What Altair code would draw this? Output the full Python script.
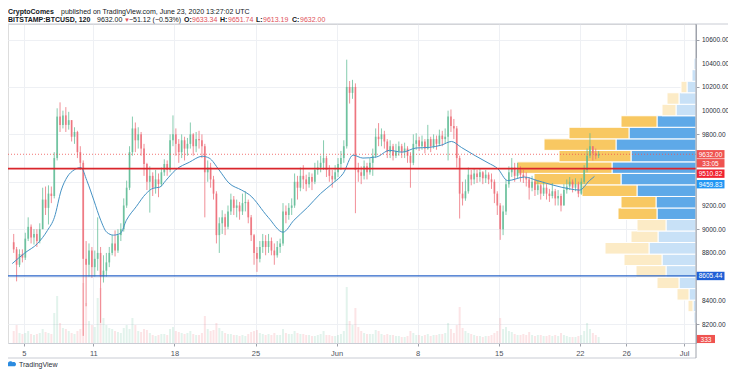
import altair as alt
import pandas as pd

# ---------------- data ----------------
# 6-hour candles starting 2020-05-04 00:00 UTC
FIRST_OPEN = 8890
closes = [
    8830, 8700, 8790, 8760, 8920, 9020, 8930, 8960, 8900, 9000, 9250, 9180,
    9300, 9280, 9600, 9950, 9880, 9960, 9880, 9920, 9780, 9820, 9650, 9560,
    8750, 8700, 8820, 8680, 8750, 8800, 8600, 8650, 8720, 8800, 8880, 8820,
    8950, 9000, 9200, 9350, 9650, 9850, 9750, 9800, 9680, 9550, 9400, 9450,
    9350, 9420, 9380, 9480, 9550, 9500, 9750, 9800, 9720, 9650, 9750, 9680,
    9720, 9800, 9700, 9760, 9750, 9700, 9480, 9520, 9420, 9300, 8950, 9050,
    9100, 9020, 9150, 9250, 9180, 9200, 9150, 9220, 9230, 9100, 8950, 8800,
    8750, 8850, 8900, 8850, 8900, 8820, 8780, 8850, 8880, 9150, 9120, 9180,
    9200, 9400, 9350, 9450, 9420, 9380, 9440, 9400, 9500, 9520, 9560, 9600,
    9500, 9450, 9420, 9480, 9550, 9600, 9700, 10200, 10150, 10200, 9500, 9480,
    9450, 9530, 9480, 9560, 9620, 9780, 9760, 9800, 9740, 9650, 9700, 9620,
    9660, 9700, 9650, 9680, 9620, 9560, 9720, 9750, 9700, 9740, 9680, 9760,
    9700, 9760, 9720, 9790, 9760, 9780, 9950, 9870, 9850, 9600, 9300, 9260,
    9320, 9460, 9420, 9470, 9440, 9480, 9430, 9460, 9420, 9400, 9300, 9200,
    9000, 9150, 9380, 9480, 9520, 9450, 9500, 9460, 9440, 9420, 9350, 9400,
    9330, 9370, 9300, 9350, 9300, 9280, 9320, 9260, 9280, 9200, 9330, 9360,
    9400, 9350, 9380, 9300, 9400, 9500, 9620, 9700, 9640, 9620, 9632,
]
highs = [
    8960, 8850, 8830, 8830, 8970, 9100, 9040, 9000, 9000, 9050, 9350, 9360,
    9370, 9360, 9650, 10020, 10070, 10000, 10030, 9990, 9920, 9860, 9830, 9700,
    9580, 8900, 8880, 8850, 8820, 9100, 8850, 8780, 8800, 8850, 8950, 8990,
    9000, 9050, 9260, 9410, 9700, 9950, 9900, 9860, 9820, 9720, 9560, 9530,
    9480, 9500, 9470, 9520, 9590, 9580, 9800, 9960, 9850, 9760, 9800, 9780,
    9770, 9900, 9810, 9820, 9830, 9800, 9720, 9580, 9560, 9450, 9320, 9100,
    9160, 9130, 9200, 9300, 9280, 9250, 9230, 9300, 9320, 9250, 9120, 8960,
    8850, 8900, 8960, 8950, 8960, 8930, 8880, 8900, 8920, 9220, 9200, 9220,
    9260, 9470, 9450, 9520, 9540, 9460, 9480, 9470, 9560, 9580, 9620, 9750,
    9620, 9540, 9500, 9540, 9600, 9660, 9750, 10430, 10250, 10260, 10230, 9560,
    9530, 9580, 9560, 9600, 9680, 9850, 9895, 9850, 9830, 9760, 9750, 9720,
    9720, 9740, 9720, 9730, 9700, 9650, 9800, 9810, 9780, 9790, 9760, 9880,
    9780, 9800, 9790, 9840, 9830, 9850, 10000, 10010, 9930, 9870, 9620, 9400,
    9420, 9520, 9500, 9510, 9500, 9510, 9490, 9500, 9480, 9470, 9420, 9320,
    9220, 9200, 9420, 9530, 9600, 9560, 9560, 9530, 9500, 9480, 9440, 9450,
    9420, 9410, 9380, 9400, 9380, 9340, 9390, 9340, 9330, 9300, 9380, 9420,
    9440, 9420, 9430, 9400, 9430, 9540, 9680, 9810, 9700, 9680, 9660,
]
lows = [
    8800, 8560, 8680, 8720, 8740, 8900, 8880, 8870, 8850, 8880, 9000, 9120,
    9040, 9220, 9260, 9580, 9820, 9850, 9820, 9840, 9740, 9720, 9600, 9500,
    8100, 8350, 8600, 8590, 8600, 8650, 8210, 8550, 8600, 8680, 8780, 8770,
    8800, 8900, 8980, 9180, 9330, 9620, 9650, 9680, 9620, 9450, 9330, 9140,
    9280, 9300, 9270, 9360, 9450, 9450, 9480, 9700, 9620, 9560, 9600, 9580,
    9620, 9680, 9620, 9650, 9680, 9600, 9100, 9400, 9350, 9250, 8880, 8800,
    8960, 8950, 9000, 9120, 9120, 9100, 9080, 9120, 9150, 9050, 8900, 8700,
    8640, 8720, 8800, 8780, 8800, 8780, 8700, 8760, 8800, 8860, 9050, 9080,
    9120, 9180, 9250, 9320, 9340, 9320, 9350, 9330, 9380, 9460, 9480, 9500,
    9440, 9400, 9350, 9400, 9440, 9500, 9560, 9680, 10060, 10100, 9135, 9400,
    9380, 9420, 9420, 9460, 9450, 9600, 9700, 9700, 9680, 9600, 9600, 9580,
    9600, 9620, 9600, 9600, 9560, 9350, 9540, 9670, 9660, 9670, 9640, 9670,
    9650, 9680, 9670, 9700, 9700, 9720, 9580, 9820, 9760, 9520, 9090, 9200,
    9240, 9300, 9370, 9380, 9390, 9400, 9380, 9390, 9380, 9340, 9220, 9120,
    8910, 8950, 9120, 9350, 9440, 9400, 9430, 9400, 9390, 9360, 9250, 9320,
    9280, 9290, 9250, 9280, 9250, 9230, 9260, 9200, 9200, 9150, 9200, 9300,
    9330, 9310, 9320, 9270, 9290, 9380, 9480, 9600, 9580, 9590, 9600,
]
volumes = [
    12, 18, 10, 9, 10, 12, 9, 8, 9, 10, 14, 11,
    10, 9, 30, 47, 20, 15, 14, 12, 10, 9, 12, 14,
    60, 40, 22, 18, 16, 45, 55, 25, 18, 15, 14, 12,
    11, 10, 15, 18, 14, 25, 18, 12, 11, 14, 13, 10,
    8, 7, 8, 9, 9, 8, 14, 16, 12, 11, 10, 9,
    10, 12, 9, 8, 8, 10, 27, 14, 12, 13, 20, 15,
    12, 10, 9, 9, 8, 8, 7, 8, 7, 9, 11, 12,
    13, 10, 9, 8, 9, 8, 10, 8, 8, 14, 10, 9,
    9, 12, 10, 9, 9, 8, 8, 7, 7, 8, 9, 12,
    8, 8, 7, 7, 8, 9, 12, 56, 22, 18, 35, 16,
    12, 10, 9, 9, 9, 13, 12, 9, 8, 9, 8, 8,
    7, 7, 6, 6, 7, 12, 10, 8, 8, 7, 8, 9,
    7, 8, 8, 9, 9, 10, 20, 14, 10, 18, 36, 15,
    12, 10, 9, 8, 7, 7, 6, 7, 7, 8, 10, 12,
    25, 14, 16, 12, 11, 9, 8, 8, 9, 8, 11, 8,
    7, 8, 8, 7, 7, 8, 7, 8, 7, 10, 8, 7,
    6, 6, 6, 7, 8, 12, 20, 14, 10, 8, 6,
]

# moving average line: (days after 2020-05-04 00:00 UTC, price)
ma_days = [0.0, 1.09, 2.19, 3.04, 3.64, 4.23, 4.74, 5.34, 5.93, 6.44, 7.04, 7.64,
           8.15, 8.74, 9.34, 9.85, 10.7, 11.55, 12.15, 12.74, 13.25, 14.1, 15.29,
           16.4, 17.0, 17.85, 18.7, 19.8, 20.48, 22.1, 23.38, 24.31, 25.5, 26.61,
           27.71, 28.57, 29.42, 30.27, 31.46, 32.56, 33.67, 34.86, 35.97, 37.07,
           37.92, 38.77, 39.97, 41.07, 41.92, 42.77, 44.22, 45.33, 46.77, 48.13,
           48.98, 49.83, 50.26]
ma_values = [8710, 8800, 8880, 8990, 9100, 9330, 9440, 9500, 9520, 9410, 9245, 9075,
             8975, 8950, 8965, 9075, 9190, 9300, 9345, 9355, 9410, 9500, 9565,
             9615, 9600, 9500, 9390, 9330, 9290, 9100, 8975, 9075, 9185, 9300,
             9390, 9470, 9625, 9600, 9610, 9665, 9650, 9685, 9690, 9710,
             9740, 9690, 9620, 9560, 9510, 9410, 9440, 9410, 9370, 9340,
             9330, 9410, 9445]

# visible range volume profile (rows bottom -> top)
vp_edges = [8110, 8207, 8304, 8402, 8499, 8596, 8693, 8790, 8888, 8985, 9082, 9179,
            9276, 9374, 9471, 9568, 9665, 9762, 9860, 9957, 10054, 10151, 10248,
            10346, 10443]
vp_blue = [0, 2, 3, 7, 17, 30, 34, 47, 38, 30, 39, 40, 59, 75, 84, 65, 80, 67, 39,
           20, 17, 9, 4, 2]
vp_yellow = [0, 0, 5, 12, 22, 30, 38, 44, 27, 29, 39, 35, 55, 87, 95, 72, 72, 60, 36,
             14, 12, 6, 0, 0]
vp_value_area = [False] * 10 + [True] * 9 + [False] * 5

current_price = 9632.00
poc_level = 9510.82
support_level = 8605.44
ma_last = 9459.83

price_ticks = [8200, 8400, 8600, 8800, 9000, 9200, 9400, 9600, 9800, 10000,
               10200, 10400, 10600]
hidden_tick_labels = [8600, 9400, 9600]   # covered by the price tags
date_ticks = ["2020-05-05", "2020-05-11", "2020-05-18", "2020-05-25", "2020-06-01",
              "2020-06-08", "2020-06-15", "2020-06-22", "2020-06-26", "2020-07-01"]

# ---------------- tables ----------------
def ms(ts):
    return int(pd.Timestamp(ts, tz="UTC").value // 10**6)

start_ms = ms("2020-05-04 00:00")
H6 = 6 * 3600 * 1000
opens = [FIRST_OPEN] + closes[:-1]
candles = pd.DataFrame({
    "time": [start_ms + i * H6 + H6 // 2 for i in range(len(closes))],
    "open": opens,
    "close": closes,
    "high": [max(h, o, c) for h, o, c in zip(highs, opens, closes)],
    "low": [min(l, o, c) for l, o, c in zip(lows, opens, closes)],
    "vol": volumes,
})
candles["dir"] = ["up" if c >= o else "down" for o, c in zip(opens, closes)]

ma_df = pd.DataFrame({
    "time": [start_ms + int(d * 24 * 3600 * 1000) for d in ma_days],
    "ma": ma_values,
})

rows = []
for i in range(len(vp_blue)):
    lo, hi = vp_edges[i], vp_edges[i + 1]
    va = vp_value_area[i]
    rows.append({"lo": lo, "hi": hi, "x0": 0, "x1": vp_blue[i],
                 "kind": "blue_dark" if va else "blue_light"})
    rows.append({"lo": lo, "hi": hi, "x0": vp_blue[i], "x1": vp_blue[i] + vp_yellow[i],
                 "kind": "yellow_dark" if va else "yellow_light"})
vp_df = pd.DataFrame(rows)
vp_df = vp_df[vp_df["x1"] > vp_df["x0"]]

tick_df = pd.DataFrame({"p": [v for v in price_ticks if v not in hidden_tick_labels]})
tick_df["lab"] = [f"{v:.2f}" for v in tick_df["p"]]

X_DOMAIN = [ms("2020-05-04 01:32"), ms("2020-07-01 14:21")]
Y_DOMAIN = [8040, 10731]
W, H = 688, 319

UP, DOWN = "#5dbb94", "#ec6a74"
FONT = "Liberation Sans"

xs = alt.Scale(type="utc", domain=X_DOMAIN)
ys = alt.Scale(domain=Y_DOMAIN, nice=False, zero=False)
dir_color = alt.Color("dir:N", scale=alt.Scale(domain=["up", "down"], range=[UP, DOWN]),
                      legend=None)

# ---------------- layers ----------------
profile = alt.Chart(vp_df).mark_rect(stroke="white", strokeWidth=1).encode(
    x=alt.X("x0:Q", scale=alt.Scale(domain=[0, W], reverse=True), axis=None),
    x2="x1:Q",
    y=alt.Y("lo:Q", scale=ys, axis=None),
    y2="hi:Q",
    color=alt.Color("kind:N", scale=alt.Scale(
        domain=["blue_dark", "blue_light", "yellow_dark", "yellow_light"],
        range=["#5ea9e8", "#c8e1f7", "#f8c862", "#fcebc6"]), legend=None),
)

vol_layer = alt.Chart(candles).mark_bar(width=2, opacity=0.18).encode(
    x=alt.X("time:T", scale=xs, axis=None),
    y=alt.Y("vol:Q", scale=alt.Scale(domain=[0, H], nice=False), axis=None),
    color=dir_color,
)

base = alt.Chart(candles)
wicks = base.mark_rule(strokeWidth=1, opacity=0.75).encode(
    x=alt.X("time:T", scale=xs, title=None, axis=alt.Axis(
        values=[ms(d) for d in date_ticks],
        labelExpr="utcdate(datum.value) == 1 ? utcFormat(datum.value, '%b') : utcFormat(datum.value, '%-d')",
        grid=True, gridColor="#eef0f4", domainColor="#c9ccd4", tickColor="#9ea2ab",
        tickSize=3, labelFontSize=7.5, labelColor="#50535e", labelPadding=3,
        labelFont=FONT, labelOverlap=False)),
    y=alt.Y("low:Q", scale=ys, title=None, axis=alt.Axis(
        orient="right", values=price_ticks, grid=True, labels=False,
        gridColor="#eef0f4", domainColor="#9ea2ab", tickColor="#9ea2ab", tickSize=3)),
    y2="high:Q",
    color=dir_color,
)
bodies = base.mark_bar(width=1.8, opacity=0.75).encode(
    x=alt.X("time:T", scale=xs),
    y=alt.Y("open:Q", scale=ys),
    y2="close:Q",
    color=dir_color,
)

ma_line = alt.Chart(ma_df).mark_line(color="#4592c4", strokeWidth=1,
                                     interpolate="monotone").encode(
    x=alt.X("time:T", scale=xs), y=alt.Y("ma:Q", scale=ys))

cur_line = alt.Chart(pd.DataFrame({"p": [current_price]})).mark_rule(
    color="#ef5350", strokeWidth=0.8, strokeDash=[1, 2]).encode(y=alt.Y("p:Q", scale=ys))
poc_line = alt.Chart(pd.DataFrame({"p": [poc_level]})).mark_rule(
    color="#d9262c", strokeWidth=1.6).encode(y=alt.Y("p:Q", scale=ys))
sup_line = alt.Chart(pd.DataFrame({"p": [support_level]})).mark_rule(
    color="#2a64c8", strokeWidth=1.3).encode(y=alt.Y("p:Q", scale=ys))

tick_labels = alt.Chart(tick_df).mark_text(
    align="left", baseline="middle", fontSize=6.5, font=FONT, color="#2a2e39", dy=0.5
).encode(x=alt.value(W + 6), y=alt.Y("p:Q", scale=ys), text="lab:N")

RECT = "M-1,-0.3H1V0.3H-1Z"


def price_tag(price, text, bg, fg="white", dy=0):
    d = pd.DataFrame({"p": [price]})
    box = alt.Chart(d).mark_point(shape=RECT, size=28 * 28, filled=True, opacity=1,
                                  color=bg, yOffset=dy).encode(
        x=alt.value(W + 14.5), y=alt.Y("p:Q", scale=ys))
    txt = alt.Chart(d).mark_text(text=text, color=fg, fontSize=6.5, font=FONT,
                                 yOffset=dy, dy=0.5).encode(
        x=alt.value(W + 14.5), y=alt.Y("p:Q", scale=ys))
    return box + txt


tags = (price_tag(current_price, f"{current_price:.2f}", "#ef5350")
        + price_tag(current_price, "33:05", "#ef5350", dy=9)
        + price_tag(poc_level, f"{poc_level:.2f}", "#f0212f", dy=5)
        + price_tag(ma_last, f"{ma_last:.2f}", "#2196f3", dy=9.5)
        + price_tag(support_level, f"{support_level:.2f}", "#1f5fd6"))

one = pd.DataFrame({"a": [0]})


def label(text, x, y, color="#131722", weight="normal", size=7, align="left"):
    return alt.Chart(one).mark_text(text=text, color=color, fontWeight=weight,
                                    fontSize=size, font=FONT, align=align,
                                    baseline="alphabetic").encode(
        x=alt.value(x), y=alt.value(y))


RED = "#e0505a"
header = (
    label("CryptoComes", 0, -10.5, weight="bold")
    + label("published on TradingView.com, June 23, 2020 13:27:02 UTC", 53, -10.5)
    + label("BITSTAMP:BTCUSD, 120", 0, -2, weight="bold")
    + label("9632.00", 89, -2)
    + label("\u25bc", 116, -2, color=RED, size=6)
    + label("\u221251.12 (\u22120.53%)", 121, -2)
    + label("O:", 176, -2, weight="bold")
    + label("9633.34", 184, -2, color=RED)
    + label("H:", 212, -2, weight="bold")
    + label("9651.74", 220, -2, color=RED)
    + label("L:", 248, -2, weight="bold")
    + label("9613.19", 255, -2, color=RED)
    + label("C:", 284, -2, weight="bold")
    + label("9632.00", 292, -2, color=RED)
)

vol_tag = (alt.Chart(one).mark_point(shape="M-1,-0.45H1V0.45H-1Z", size=18 * 18,
                                     filled=True, opacity=1, color="#ef5350").encode(
    x=alt.value(W + 10), y=alt.value(H - 4))
    + alt.Chart(one).mark_text(text="333", color="white", fontSize=6.5, font=FONT).encode(
    x=alt.value(W + 10), y=alt.value(H - 3.5)))

frame = (
    alt.Chart(one).mark_rule(color="#c9ccd4", strokeWidth=1).encode(
        x=alt.value(0), x2=alt.value(728), y=alt.value(0))
    + alt.Chart(one).mark_rule(color="#c9ccd4", strokeWidth=1).encode(
        x=alt.value(0), x2=alt.value(W), y=alt.value(H + 15))
    + alt.Chart(one).mark_rule(color="#9ea2ab", strokeWidth=1).encode(
        x=alt.value(W), y=alt.value(0), y2=alt.value(H + 15))
)

CLOUD = ("M-0.75,0.45 A0.4,0.4 0 0 1 -0.6,-0.2 A0.55,0.55 0 0 1 0.35,-0.35 "
         "A0.42,0.42 0 0 1 0.75,0.45 Z")
footer = (
    alt.Chart(one).mark_point(shape=CLOUD, size=100, filled=True, opacity=1,
                              color="#2b8be0").encode(x=alt.value(3), y=alt.value(340))
    + label("TradingView", 11, 343, color="#2a2e39", size=7)
)

main = alt.layer(wicks, bodies, ma_line, cur_line, poc_line, sup_line, tick_labels, tags)

chart = alt.layer(profile, vol_layer, main, header, vol_tag, frame, footer).resolve_scale(
    x="independent", y="independent", color="independent"
).properties(
    width=W, height=H,
    padding={"left": 0, "top": 16, "right": 32, "bottom": 26},
    autosize=alt.AutoSizeParams(type="none"),
).configure_view(stroke="#c9ccd4").configure(font=FONT)

chart.save("out.html", embed_options={"renderer": "svg", "actions": False})
